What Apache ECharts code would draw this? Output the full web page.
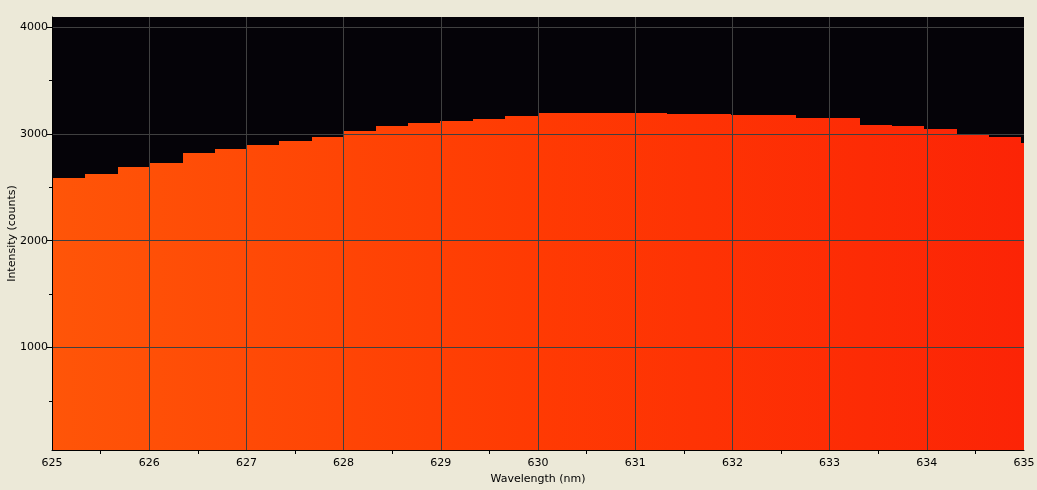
<!DOCTYPE html>
<html>
<head>
<meta charset="utf-8">
<script src="https://cdn.jsdelivr.net/npm/echarts@6/dist/echarts.min.js"></script>
<style>
html,body{margin:0;padding:0;background:#ECE9D8;}
#chart{width:1037px;height:490px;}
</style>
</head>
<body>
<div id="chart"></div>
<script>
// Bin left edges (nm) and intensities (counts)
const wavelengths = [625.00, 625.34, 625.68, 626.01, 626.35, 626.68, 627.01, 627.34, 627.67, 628.00,
  628.33, 628.66, 628.99, 629.33, 629.66, 630.00, 630.33, 630.67, 631.00, 631.33,
  631.65, 631.99, 632.33, 632.65, 632.98, 633.31, 633.64, 633.97, 634.31, 634.64, 634.97];
const intensities = [2591, 2622, 2688, 2732, 2825, 2863, 2900, 2937, 2975, 3031,
  3078, 3106, 3124, 3143, 3171, 3199, 3199, 3199, 3199, 3190,
  3190, 3180, 3180, 3152, 3152, 3087, 3078, 3050, 2997, 2975, 2919];
const xTickLabels = [625, 626, 627, 628, 629, 630, 631, 632, 633, 634, 635];
const xGridLines = [626, 627, 628, 629, 630, 631, 632, 633, 634];
const yMajorTicks = [1000, 2000, 3000, 4000];
const yMinorTicks = [500, 1500, 2500, 3500];
const xRange = [625, 635];
const yRange = [40, 4095];

// Each bin spans from its left edge to the next bin's left edge (last bin to the axis end)
const bins = wavelengths.map((w, i) => [
  w, i + 1 < wavelengths.length ? wavelengths[i + 1] : xRange[1], intensities[i]
]);
const font = 'DejaVu Sans';
const plain = v => String(Math.round(v));

function renderBin(params, api) {
  const left = api.value(0), right = api.value(1), val = api.value(2);
  const p0 = api.coord([left, val]);
  const p1 = api.coord([right, yRange[0]]);
  const gx0 = api.coord([xRange[0], yRange[0]])[0];
  const gx1 = api.coord([xRange[1], yRange[0]])[0];
  const x0 = Math.round(p0[0]), x1 = Math.round(p1[0]);
  const y0 = Math.round(p0[1]), y1 = Math.round(p1[1]);
  return {
    type: 'rect',
    shape: {x: x0, y: y0, width: x1 - x0, height: y1 - y0},
    style: {
      fill: new echarts.graphic.LinearGradient(gx0, 0, gx1, 0, [
        {offset: 0, color: '#ff5508'},
        {offset: 0.5, color: '#ff3a03'},
        {offset: 1, color: '#fc2406'}
      ], true)
    }
  };
}

const chart = echarts.init(document.getElementById('chart'), null, {renderer: 'canvas'});
chart.setOption({
  backgroundColor: '#ECE9D8',
  animation: false,
  grid: {left: 52, right: 13, top: 17, bottom: 40, show: true, backgroundColor: '#050308', borderWidth: 0,
    containLabel: false, outerBoundsMode: 'none'},
  xAxis: {
    type: 'value', min: xRange[0], max: xRange[1], interval: 1, z: 10,
    name: 'Wavelength (nm)', nameLocation: 'middle', nameGap: 24, nameMoveOverlap: false,
    nameTextStyle: {color: '#000', fontFamily: font, fontSize: 11},
    axisLine: {show: true, lineStyle: {color: '#000', width: 1}},
    axisTick: {show: false, customValues: xGridLines},
    minorTick: {show: true, splitNumber: 2, length: 4, lineStyle: {color: '#000'}},
    axisLabel: {color: '#000', fontFamily: font, fontSize: 11, margin: 8, formatter: plain, customValues: xTickLabels},
    splitLine: {show: true, lineStyle: {color: '#404040', width: 1}}
  },
  yAxis: [{
    type: 'value', min: yRange[0], max: yRange[1], z: 10,
    name: 'Intensity (counts)', nameLocation: 'middle', nameGap: 34, nameMoveOverlap: false,
    nameTextStyle: {color: '#000', fontFamily: font, fontSize: 11},
    axisLine: {show: true, lineStyle: {color: '#000', width: 1}},
    axisTick: {show: true, length: 5, customValues: yMajorTicks, lineStyle: {color: '#000'}},
    axisLabel: {color: '#000', fontFamily: font, fontSize: 11, margin: 4, customValues: yMajorTicks, formatter: plain},
    splitLine: {show: true, lineStyle: {color: '#404040', width: 1}}
  }, {
    type: 'value', min: yRange[0], max: yRange[1], position: 'left', z: 10,
    axisLine: {show: false},
    axisTick: {show: true, length: 3, customValues: yMinorTicks, lineStyle: {color: '#000'}},
    axisLabel: {show: false},
    splitLine: {show: false}
  }],
  series: [{
    type: 'custom', renderItem: renderBin, data: bins, z: 2,
    encode: {x: [0, 1], y: 2}, clip: true
  }]
});
</script>
</body>
</html>
